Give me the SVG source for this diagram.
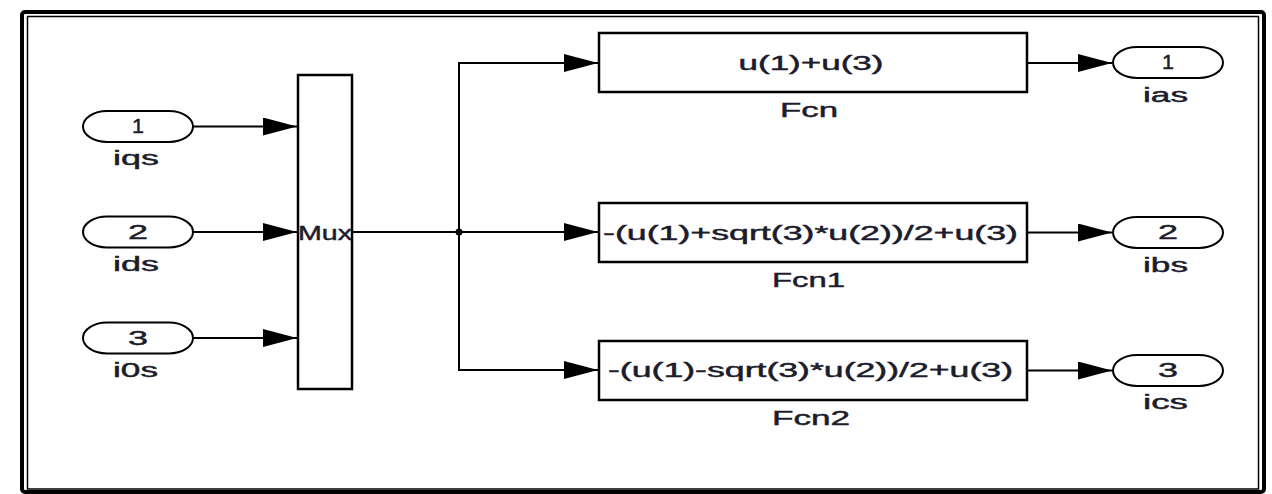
<svg xmlns="http://www.w3.org/2000/svg" width="1272" height="494" viewBox="0 0 1272 494">
<style>
.blk{fill:#fff;stroke:#000;stroke-width:2.5}
.port{fill:#fff;stroke:#000;stroke-width:2}
.ln{fill:none;stroke:#000;stroke-width:2}
.t{font-family:"Liberation Sans",Arial,sans-serif;font-size:20px;fill:#1c1c2c;stroke:#1c1c2c;stroke-width:0.45;text-anchor:middle}
</style>
<defs>
<marker id="arr" markerUnits="userSpaceOnUse" viewBox="0 0 34 18" refX="34" refY="9" markerWidth="34" markerHeight="18" orient="auto">
<path d="M0,0 L34,9 L0,18 z" fill="#000"/>
</marker>
</defs>
<rect x="0" y="0" width="1272" height="494" fill="#fff"/>
<rect x="22" y="12" width="1242" height="480" rx="3" fill="none" stroke="#000" stroke-width="4"/>
<rect x="27.5" y="16.5" width="1231" height="472.5" fill="none" stroke="#000" stroke-width="1.5"/>

<g id="connectors">
<path class="ln" d="M193,126.5 H297" marker-end="url(#arr)"/>
<path class="ln" d="M193,232 H297" marker-end="url(#arr)"/>
<path class="ln" d="M193,338 H297" marker-end="url(#arr)"/>
<path class="ln" d="M352,232 H459"/>
<path class="ln" d="M459,232 V63 H598" marker-end="url(#arr)"/>
<path class="ln" d="M459,232 H598" marker-end="url(#arr)"/>
<path class="ln" d="M459,232 V370 H598" marker-end="url(#arr)"/>
<circle cx="459" cy="232" r="3.5" fill="#000"/>
<path class="ln" d="M1027,63 H1112" marker-end="url(#arr)"/>
<path class="ln" d="M1027,232.5 H1112" marker-end="url(#arr)"/>
<path class="ln" d="M1027,370.5 H1112" marker-end="url(#arr)"/>
</g>

<g id="in1">
<rect class="port" x="83" y="111" width="110" height="31" rx="24" ry="15.5"/>
<text class="t" x="138" y="133" textLength="12" lengthAdjust="spacingAndGlyphs">1</text>
<text class="t" x="136" y="165" textLength="46" lengthAdjust="spacingAndGlyphs">iqs</text>
</g>
<g id="in2">
<rect class="port" x="83" y="216.5" width="110" height="31" rx="24" ry="15.5"/>
<text class="t" x="138" y="238.5" textLength="20" lengthAdjust="spacingAndGlyphs">2</text>
<text class="t" x="136" y="271" textLength="46" lengthAdjust="spacingAndGlyphs">ids</text>
</g>
<g id="in3">
<rect class="port" x="83" y="322.5" width="110" height="31" rx="24" ry="15.5"/>
<text class="t" x="138" y="344.5" textLength="20" lengthAdjust="spacingAndGlyphs">3</text>
<text class="t" x="135.5" y="377" textLength="45" lengthAdjust="spacingAndGlyphs">i0s</text>
</g>

<g id="mux">
<rect x="298" y="75" width="54" height="314" fill="#fff"/>
<text class="t" x="325" y="240" textLength="54" lengthAdjust="spacingAndGlyphs">Mux</text>
<rect x="298" y="75" width="54" height="314" fill="none" stroke="#000" stroke-width="2.5"/>
</g>

<g id="fcn">
<rect class="blk" x="599" y="33" width="428" height="59"/>
<text class="t" x="811" y="70" textLength="145" lengthAdjust="spacingAndGlyphs">u(1)+u(3)</text>
<text class="t" x="809" y="117" textLength="58" lengthAdjust="spacingAndGlyphs">Fcn</text>
</g>
<g id="fcn1">
<rect class="blk" x="599" y="203" width="428" height="59"/>
<text class="t" x="810.5" y="240" textLength="415" lengthAdjust="spacingAndGlyphs">-(u(1)+sqrt(3)*u(2))/2+u(3)</text>
<text class="t" x="808.5" y="287" textLength="73" lengthAdjust="spacingAndGlyphs">Fcn1</text>
</g>
<g id="fcn2">
<rect class="blk" x="599" y="341" width="428" height="59"/>
<text class="t" x="810.5" y="377" textLength="405" lengthAdjust="spacingAndGlyphs">-(u(1)-sqrt(3)*u(2))/2+u(3)</text>
<text class="t" x="811" y="425" textLength="78" lengthAdjust="spacingAndGlyphs">Fcn2</text>
</g>

<g id="out1">
<rect class="port" x="1113" y="47" width="110" height="31" rx="24" ry="15.5"/>
<text class="t" x="1168" y="69" textLength="12" lengthAdjust="spacingAndGlyphs">1</text>
<text class="t" x="1165.5" y="102" textLength="45" lengthAdjust="spacingAndGlyphs">ias</text>
</g>
<g id="out2">
<rect class="port" x="1113" y="217" width="110" height="31" rx="24" ry="15.5"/>
<text class="t" x="1168" y="239" textLength="20" lengthAdjust="spacingAndGlyphs">2</text>
<text class="t" x="1165.5" y="271.5" textLength="45" lengthAdjust="spacingAndGlyphs">ibs</text>
</g>
<g id="out3">
<rect class="port" x="1113" y="355" width="110" height="31" rx="24" ry="15.5"/>
<text class="t" x="1168" y="377" textLength="20" lengthAdjust="spacingAndGlyphs">3</text>
<text class="t" x="1165.5" y="409" textLength="45" lengthAdjust="spacingAndGlyphs">ics</text>
</g>
</svg>
